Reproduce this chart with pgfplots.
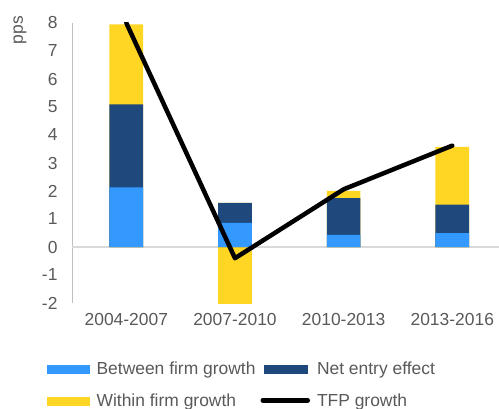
\documentclass[border=0pt]{standalone}
\usepackage{fontspec}
\setmainfont{Liberation Sans}
\usepackage{pgfplots}
\usepackage{pgfplotstable}
\pgfplotsset{compat=1.18}

\definecolor{between}{HTML}{3399FF}
\definecolor{netentry}{HTML}{1F497D}
\definecolor{within}{HTML}{FFD624}
\definecolor{txt}{HTML}{595959}
\definecolor{axisgray}{HTML}{BFBFBF}
\definecolor{zerogray}{HTML}{D9D9D9}

% components of TFP growth, pps
\pgfplotstableread{
x between net within tfp
0 2.13 2.96 2.86 8.00
1 0.86 0.72 -2.04 -0.40
2 0.43 1.32 0.25 2.06
3 0.50 1.01 2.07 3.62
}\data

\begin{document}
\begin{tikzpicture}
\begin{axis}[
  scale only axis, width=427bp, height=280bp,
  xmin=-0.5, xmax=3.43, ymin=-2, ymax=8,
  ybar, bar width=0.31, /pgf/bar shift=0pt,
  xtick={0,1,2,3},
  xticklabels={2004-2007,2007-2010,2010-2013,2013-2016},
  ytick={-2,-1,...,8},
  yticklabels={-2,-1,0,1,2,3,4,5,6,7,8},
  axis lines*=left, separate axis lines,
  x axis line style={draw=none},
  y axis line style={-, draw=axisgray, line width=1pt},
  major tick length=0pt,
  extra y ticks={0}, extra y tick labels={},
  extra y tick style={grid=major, major grid style={draw=zerogray, line width=1.3pt}},
  font=\fontsize{17.5}{20}\selectfont,
  tick label style={text=txt, font=\fontsize{17.5}{20}\selectfont},
  yticklabel style={xshift=-11bp},
  xticklabel style={yshift=-7bp},
  ylabel={pps},
  ylabel style={at={(axis description cs:0,1)}, anchor=center,
    yshift=52bp, xshift=-7bp, text=txt},
  legend columns=2,
  legend style={at={(axis description cs:0,0)}, anchor=north west,
    xshift=-25bp, yshift=-59bp, draw=none, fill=none, inner sep=0pt,
    text=txt, font=\fontsize{17.5}{20}\selectfont,
    nodes={inner sep=0pt},
    row sep=18bp,
    /tikz/every even column/.append style={column sep=5bp},
    /tikz/every odd column/.append style={column sep=7bp}},
  legend cell align=left,
]
\addplot[fill=within, draw=none, forget plot] table[x=x,
  y expr={\thisrow{between}+\thisrow{net}+max(\thisrow{within},0)}] {\data};
\addplot[fill=within, draw=none, forget plot] table[x=x,
  y expr={min(\thisrow{within},0)}] {\data};
\addplot[fill=netentry, draw=none, forget plot] table[x=x,
  y expr={\thisrow{between}+\thisrow{net}}] {\data};
\addplot[fill=between, draw=none, forget plot] table[x=x, y=between] {\data};
\addplot[sharp plot, black, line width=4.5bp, line cap=round, line join=round,
  forget plot] table[x=x, y=tfp] {\data};

\addlegendimage{legend image code/.code={\fill[between] (0bp,-4bp) rectangle (42bp,4bp);}}
\addlegendentry{Between firm growth}
\addlegendimage{legend image code/.code={\fill[netentry] (0bp,-4bp) rectangle (43bp,4bp);}}
\addlegendentry{Net entry effect}
\addlegendimage{legend image code/.code={\fill[within] (0bp,-4bp) rectangle (42bp,4bp);}}
\addlegendentry{Within firm growth}
\addlegendimage{legend image code/.code={\draw[black, line width=4.5bp, line cap=round] (-1bp,0) -- (44bp,0);}}
\addlegendentry{TFP growth}
\end{axis}
\pgfresetboundingbox
\path[use as bounding box] (-72bp,-106bp) rectangle (427bp,303bp);
\end{tikzpicture}
\end{document}
